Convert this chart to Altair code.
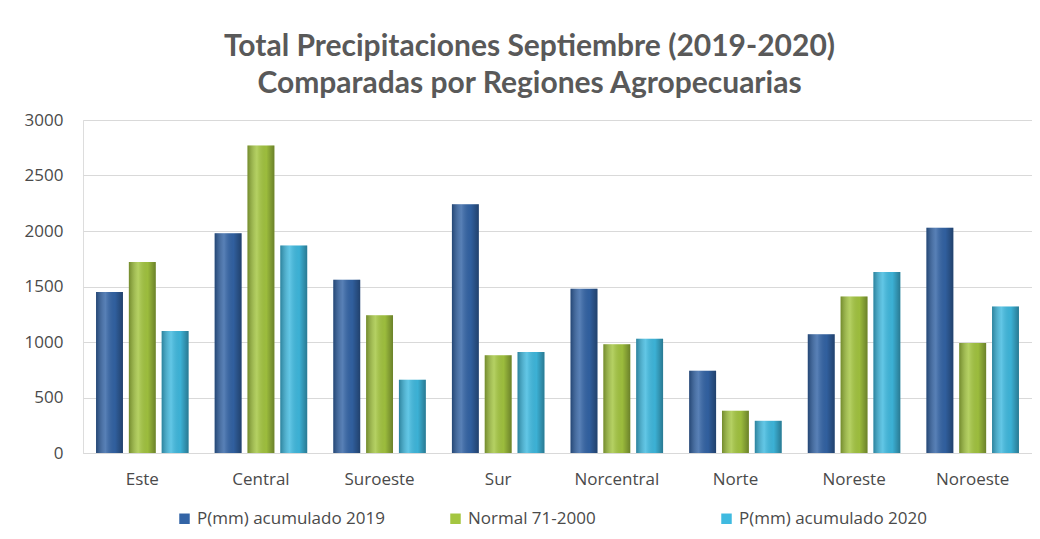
import altair as alt
import pandas as pd

cats = ["Este", "Central", "Suroeste", "Sur", "Norcentral", "Norte", "Noreste", "Noroeste"]
series = ["P(mm) acumulado 2019", "Normal 71-2000", "P(mm) acumulado 2020"]
p2019 = [1450, 1980, 1560, 2240, 1480, 740, 1070, 2030]
normal = [1720, 2770, 1240, 880, 980, 380, 1410, 990]
p2020 = [1100, 1870, 660, 910, 1030, 290, 1630, 1320]
colors = ["#3364A6", "#A4C640", "#3FBAE0"]
y_ticks = [0, 500, 1000, 1500, 2000, 2500, 3000]

rows = []
for i, c in enumerate(cats):
    for s, vals in zip(series, [p2019, normal, p2020]):
        rows.append({"region": c, "serie": s, "valor": vals[i]})
df = pd.DataFrame(rows)

FONT = "Lato"
LFONT = "Open Sans"
TXT = "#4a4a4a"

x = alt.X("region:N", sort=cats,
          scale=alt.Scale(paddingInner=0.22, paddingOuter=0.11),
          axis=alt.Axis(title=None, labelAngle=0, domain=True, domainColor="#d9d9d9",
                        ticks=False, labelPadding=18, labelFontSize=17,
                        labelColor=TXT, labelFont=LFONT))
xo = alt.XOffset("serie:N", sort=series, scale=alt.Scale(paddingInner=0.18))
y = alt.Y("valor:Q", scale=alt.Scale(domain=[0, 3000], nice=False),
          axis=alt.Axis(title=None, values=y_ticks, format="d", grid=True, gridColor="#d9d9d9",
                        domain=False, ticks=False, labelPadding=20, labelFontSize=17,
                        labelColor=TXT, labelFont=LFONT, minExtent=75, maxExtent=75))

base = alt.Chart(df)

bars = base.mark_bar().encode(
    x=x, xOffset=xo, y=y,
    color=alt.Color("serie:N", sort=series,
                    scale=alt.Scale(domain=series, range=colors),
                    legend=alt.Legend(title=None, orient="none", direction="horizontal",
                                      columns=3, gridAlign="all",
                                      legendX=93, legendY=390, symbolType="square",
                                      symbolSize=110, labelFontSize=17, labelFont=LFONT,
                                      labelColor=TXT, columnPadding=62,
                                      symbolStrokeWidth=0, labelLimit=300)),
)

shade = base.mark_bar(
    color=alt.Gradient(
        gradient="linear", x1=0, x2=1, y1=0, y2=0,
        stops=[
            alt.GradientStop(color="rgba(0,0,0,0.30)", offset=0),
            alt.GradientStop(color="rgba(255,255,255,0.18)", offset=0.35),
            alt.GradientStop(color="rgba(0,0,0,0.05)", offset=0.7),
            alt.GradientStop(color="rgba(0,0,0,0.35)", offset=1),
        ],
    )
).encode(x=x, xOffset=xo, y=y)

chart = alt.layer(bars, shade).properties(
    width=949, height=333,
    padding={"left": 0, "top": 24, "right": 0, "bottom": 3},
    title=alt.TitleParams(
        ["Total Precipitaciones Septiembre  (2019-2020)", "Comparadas por Regiones Agropecuarias"],
        fontSize=30, font=FONT, fontWeight="bold", color="#595959",
        lineHeight=37, offset=12, anchor="middle", frame="group", dx=-28,
    ),
).configure_view(stroke=None).configure(background="white")

chart.save("out.html", embed_options={"renderer": "svg", "actions": False})
